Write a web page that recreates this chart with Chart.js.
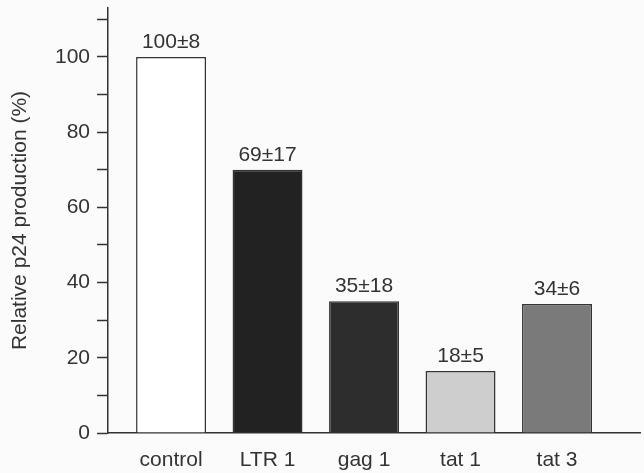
<!DOCTYPE html>
<html>
<head>
<meta charset="utf-8">
<script src="https://cdn.jsdelivr.net/npm/chart.js@4"></script>
<style>
  html, body { margin: 0; padding: 0; background: #fbfbfb; }
  #wrap { width: 644px; height: 473px; }
</style>
</head>
<body>
<div id="wrap"><canvas id="c" width="644" height="473"></canvas></div>
<script>
const categories = ["control", "LTR 1", "gag 1", "tat 1", "tat 3"];
const values = [100, 70, 35, 16.5, 34.3];
const valueLabels = ["100±8", "69±17", "35±18", "18±5", "34±6"];
const barColors = ["#ffffff", "#222222", "#2d2d2d", "#cecece", "#7a7a7a"];
const yTickLabels = [0, 20, 40, 60, 80, 100];

const FONT = "'Liberation Sans', Arial, Helvetica, sans-serif";
const INK = "#333333";

const bgPlugin = {
  id: "bg",
  beforeDraw(chart) {
    const ctx = chart.ctx;
    ctx.save();
    ctx.fillStyle = "#fbfbfb";
    ctx.fillRect(0, 0, chart.width, chart.height);
    ctx.restore();
  }
};

const valueLabelPlugin = {
  id: "valueLabels",
  afterDatasetsDraw(chart) {
    const ctx = chart.ctx;
    const meta = chart.getDatasetMeta(0);
    ctx.save();
    ctx.font = "21px " + FONT;
    ctx.fillStyle = INK;
    ctx.textAlign = "center";
    ctx.textBaseline = "alphabetic";
    meta.data.forEach((bar, i) => {
      ctx.fillText(valueLabels[i], bar.x, bar.y - 9);
    });
    ctx.restore();
  }
};

function noPad(scale) {
  scale.paddingTop = 0;
  scale.paddingBottom = 0;
  scale.paddingLeft = 0;
  scale.paddingRight = 0;
}

new Chart(document.getElementById("c"), {
  type: "bar",
  data: {
    datasets: [{
      data: values.map((v, i) => ({ x: i, y: v })),
      backgroundColor: barColors,
      borderColor: INK,
      borderWidth: 1.5,
      categoryPercentage: 1,
      barPercentage: 0.725
    }]
  },
  options: {
    responsive: false,
    animation: false,
    devicePixelRatio: 1,
    layout: { padding: { left: 3, right: 4, top: 8, bottom: 0 } },
    plugins: { legend: { display: false }, tooltip: { enabled: false } },
    scales: {
      x: {
        type: "linear",
        offset: false,
        min: -0.653,
        max: 4.86,
        afterFit: (s) => { noPad(s); s.height = 40; },
        grid: { display: true, offset: false, drawOnChartArea: false, drawTicks: false },
        border: { display: true, color: INK, width: 1.5 },
        ticks: {
          stepSize: 1,
          includeBounds: false,
          autoSkip: false,
          maxRotation: 0,
          padding: 15,
          color: INK,
          font: { size: 21, family: FONT },
          callback: (v) => (Number.isInteger(v) && categories[v] !== undefined) ? categories[v] : ""
        }
      },
      y: {
        type: "linear",
        min: 0,
        max: 113,
        afterFit: noPad,
        grid: { display: true, drawOnChartArea: false, drawTicks: true, tickLength: 11, tickColor: INK, tickWidth: 1.5 },
        border: { display: true, color: INK, width: 1.5 },
        ticks: {
          stepSize: 10,
          includeBounds: false,
          autoSkip: false,
          padding: 7,
          color: INK,
          font: { size: 21, family: FONT },
          callback: (v) => yTickLabels.includes(v) ? String(v) : ""
        },
        title: {
          display: true,
          text: "Relative p24 production (%)",
          color: INK,
          font: { size: 21, family: FONT },
          padding: { top: 4.4, bottom: 15.4 }
        }
      }
    }
  },
  plugins: [bgPlugin, valueLabelPlugin]
});
</script>
</body>
</html>
